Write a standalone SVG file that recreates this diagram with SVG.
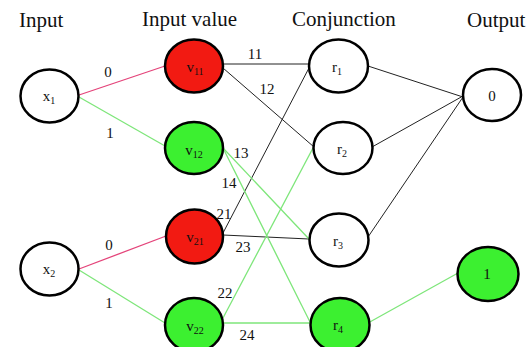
<svg xmlns="http://www.w3.org/2000/svg" width="528" height="347" viewBox="0 0 528 347">
<style>
  .hdr { font-family: "Liberation Serif", "Times New Roman", serif; font-size: 21px; fill: #111; }
  .lbl { font-family: "Liberation Serif", "Times New Roman", serif; font-size: 15px; fill: #111; text-anchor: middle; }
  .sub { font-size: 10px; }
  .node { stroke: #000; stroke-width: 2.5; }
  .white { fill: #fff; }
  .red { fill: #f21a12; }
  .green { fill: #3cf030; }
  .e-black { stroke: #222; stroke-width: 1; fill: none; }
  .e-red { stroke: #e4447a; stroke-width: 1.3; fill: none; }
  .e-green { stroke: #7ee67a; stroke-width: 1.3; fill: none; }
</style>
<rect width="528" height="347" fill="#fff"/>
<g id="headers">
  <text class="hdr" x="19" y="27">Input</text>
  <text class="hdr" x="142" y="26">Input value</text>
  <text class="hdr" x="292" y="26">Conjunction</text>
  <text class="hdr" x="467" y="27">Output</text>
</g>
<g id="connectors">
  <line class="e-red" x1="79" y1="95" x2="165" y2="66"/>
  <line class="e-green" x1="79" y1="97" x2="165" y2="146"/>
  <line class="e-red" x1="79" y1="269" x2="166" y2="236"/>
  <line class="e-green" x1="79" y1="270" x2="165" y2="323"/>
  <line class="e-black" x1="223" y1="64" x2="310" y2="64"/>
  <line class="e-black" x1="223" y1="68" x2="314" y2="147"/>
  <line class="e-black" x1="223" y1="233" x2="310" y2="66"/>
  <line class="e-black" x1="223" y1="235" x2="309" y2="239"/>
  <line class="e-green" x1="223" y1="148" x2="309" y2="239"/>
  <line class="e-green" x1="223" y1="148" x2="310" y2="322"/>
  <line class="e-green" x1="223" y1="318" x2="313" y2="148"/>
  <line class="e-green" x1="223" y1="323" x2="310" y2="323"/>
  <line class="e-black" x1="368" y1="66" x2="463" y2="97"/>
  <line class="e-black" x1="372" y1="147" x2="463" y2="96"/>
  <line class="e-black" x1="368" y1="237" x2="463" y2="97"/>
  <line class="e-green" x1="368" y1="323" x2="458" y2="273"/>
</g>
<g id="edge-labels">
  <text class="lbl" x="108" y="77">0</text>
  <text class="lbl" x="110" y="138">1</text>
  <text class="lbl" x="109" y="250">0</text>
  <text class="lbl" x="109" y="308">1</text>
  <text class="lbl" x="255" y="59">11</text>
  <text class="lbl" x="267" y="94">12</text>
  <text class="lbl" x="241" y="158">13</text>
  <text class="lbl" x="229" y="188">14</text>
  <text class="lbl" x="224" y="219">21</text>
  <text class="lbl" x="243" y="252">23</text>
  <text class="lbl" x="225" y="298">22</text>
  <text class="lbl" x="247" y="340">24</text>
</g>
<g id="x1"><ellipse class="node white" cx="49.5" cy="96" rx="29" ry="26.5"/><text class="lbl" x="49" y="101">x<tspan class="sub" dy="3">1</tspan></text></g>
<g id="x2"><ellipse class="node white" cx="49.5" cy="269" rx="29" ry="26.5"/><text class="lbl" x="49" y="274">x<tspan class="sub" dy="3">2</tspan></text></g>
<g id="v11"><ellipse class="node red" cx="194" cy="66" rx="29" ry="26.5"/><text class="lbl" x="195" y="72">v<tspan class="sub" dy="3">11</tspan></text></g>
<g id="v12"><ellipse class="node green" cx="194" cy="148" rx="29" ry="26"/><text class="lbl" x="194" y="155">v<tspan class="sub" dy="3">12</tspan></text></g>
<g id="v21"><ellipse class="node red" cx="194.5" cy="236.5" rx="28.5" ry="27"/><text class="lbl" x="195" y="242">v<tspan class="sub" dy="3">21</tspan></text></g>
<g id="v22"><ellipse class="node green" cx="194" cy="325" rx="29" ry="27"/><text class="lbl" x="195" y="331">v<tspan class="sub" dy="3">22</tspan></text></g>
<g id="r1"><ellipse class="node white" cx="338.5" cy="66" rx="29.5" ry="26.5"/><text class="lbl" x="337" y="72">r<tspan class="sub" dy="3">1</tspan></text></g>
<g id="r2"><ellipse class="node white" cx="343" cy="148" rx="29.5" ry="26"/><text class="lbl" x="342" y="154">r<tspan class="sub" dy="3">2</tspan></text></g>
<g id="r3"><ellipse class="node white" cx="339" cy="240" rx="29.5" ry="26.5"/><text class="lbl" x="338" y="246">r<tspan class="sub" dy="3">3</tspan></text></g>
<g id="r4"><ellipse class="node green" cx="340" cy="325" rx="29.5" ry="27"/><text class="lbl" x="338" y="330">r<tspan class="sub" dy="3">4</tspan></text></g>
<g id="out0"><ellipse class="node white" cx="492" cy="95" rx="29" ry="26"/><text class="lbl" x="492" y="101">0</text></g>
<g id="out1"><ellipse class="node green" cx="488" cy="274" rx="30.5" ry="27"/><text class="lbl" x="487" y="279">1</text></g>
</svg>
